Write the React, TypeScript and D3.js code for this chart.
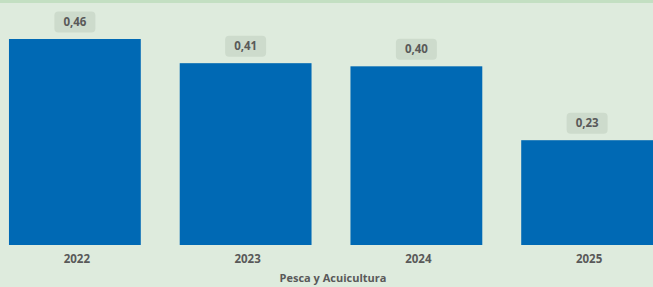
import React, { useEffect, useRef } from 'react';
import * as d3 from 'd3';

const years = ['2022', '2023', '2024', '2025'];
const values = [0.46, 0.406, 0.399, 0.234];
const axisTitle = 'Pesca y Acuicultura';

const width = 653;
const height = 287;

const App = () => {
  const svgRef = useRef<SVGSVGElement>(null);

  useEffect(() => {
    const svg = d3.select(svgRef.current);
    svg.selectAll('*').remove();

    svg.append('rect')
      .attr('width', width)
      .attr('height', height)
      .attr('fill', '#deebdd');

    svg.append('rect')
      .attr('width', width)
      .attr('height', 3)
      .attr('fill', '#c3dfc2');

    const x = d3.scaleBand()
      .domain(years)
      .range([-10.5, 672.5])
      .paddingInner(0.228)
      .paddingOuter(0.114);

    const y = d3.scaleLinear()
      .domain([0, 0.46])
      .range([245, 39]);

    const fmt = (v: number) => d3.format('.2f')(v).replace('.', ',');

    svg.selectAll('.bar')
      .data(values)
      .enter()
      .append('rect')
      .attr('class', 'bar')
      .attr('x', (d, i) => x(years[i])!)
      .attr('y', d => y(d))
      .attr('width', x.bandwidth())
      .attr('height', d => y(0) - y(d))
      .attr('fill', '#0069b4');

    const labels = svg.selectAll('.lbl')
      .data(values)
      .enter()
      .append('g')
      .attr('class', 'lbl')
      .attr('transform', (d, i) => `translate(${x(years[i])! + x.bandwidth() / 2},${y(d) - 17})`);

    labels.append('rect')
      .attr('x', -20.5)
      .attr('y', -10.5)
      .attr('width', 41)
      .attr('height', 21)
      .attr('rx', 4)
      .attr('fill', '#cddbcc');

    labels.append('text')
      .attr('text-anchor', 'middle')
      .attr('dy', '0.36em')
      .attr('font-family', 'Open Sans, sans-serif')
      .attr('font-weight', 'bold')
      .attr('font-size', 11.5)
      .attr('fill', '#595959')
      .text(d => fmt(d));

    svg.selectAll('.yr')
      .data(years)
      .enter()
      .append('text')
      .attr('class', 'yr')
      .attr('x', d => x(d)! + x.bandwidth() / 2 + 2)
      .attr('y', 263)
      .attr('text-anchor', 'middle')
      .attr('font-family', 'Open Sans, sans-serif')
      .attr('font-weight', 'bold')
      .attr('font-size', 11.5)
      .attr('fill', '#595959')
      .text(d => d);

    svg.append('text')
      .attr('x', 333)
      .attr('y', 282)
      .attr('text-anchor', 'middle')
      .attr('font-family', 'Open Sans, sans-serif')
      .attr('font-weight', 'bold')
      .attr('font-size', 11)
      .attr('fill', '#595959')
      .text(axisTitle);
  }, []);

  return (
    <svg
      ref={svgRef}
      width={width}
      height={height}
      style={{ position: 'absolute', left: 0, top: 0 }}
    />
  );
};

export default App;
